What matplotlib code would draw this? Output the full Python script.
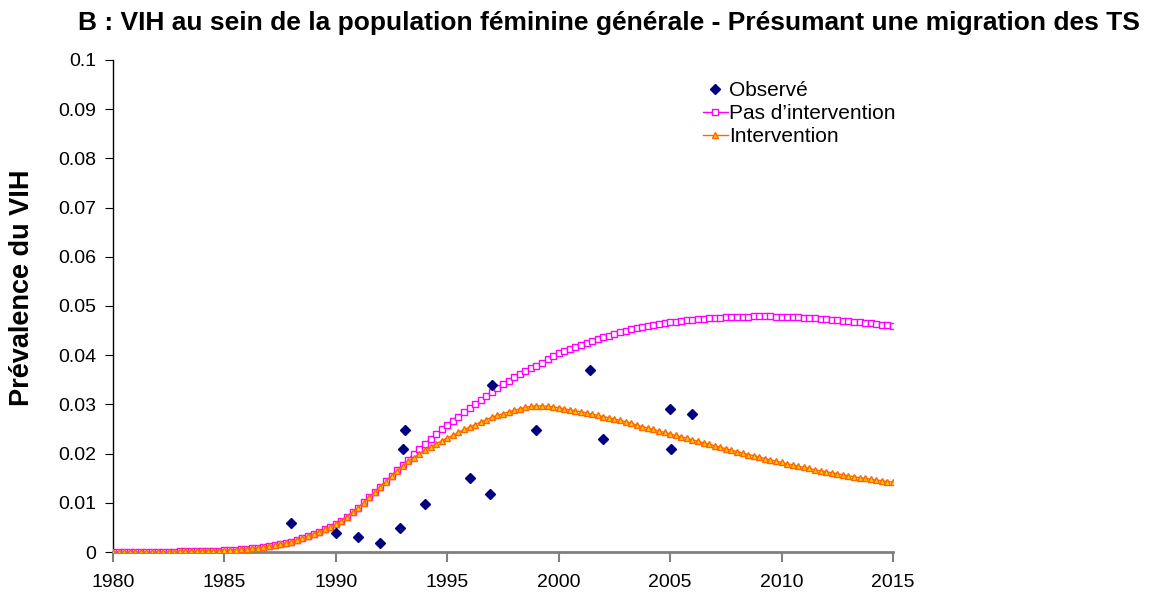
import numpy as np
import matplotlib.pyplot as plt

plt.rcParams['font.family'] = ['Liberation Sans', 'DejaVu Sans']

# observed prevalence (year, value)
obs_year = [1988.0, 1990.0, 1991.0, 1992.0, 1992.9, 1993.0, 1993.1, 1994.0,
            1996.0, 1996.9, 1997.0, 1999.0, 2001.4, 2002.0, 2005.0, 2005.05, 2006.0]
obs_val = [0.0058, 0.0038, 0.003, 0.0019, 0.0048, 0.0209, 0.0248, 0.0098,
           0.015, 0.0118, 0.034, 0.0248, 0.0369, 0.023, 0.029, 0.0209, 0.028]

# model output, quarterly from 1980 to 2015
model_years = np.arange(1980, 2015.01, 0.25)

no_interv = [
    0.0000, 0.0000, 0.0000, 0.0000, 0.0000, 0.0000, 0.0000, 0.0000,
    0.0000, 0.0000, 0.0001, 0.0001, 0.0002, 0.0002, 0.0002, 0.0002,
    0.0003, 0.0003, 0.0003, 0.0003, 0.0004, 0.0005, 0.0005, 0.0006,
    0.0007, 0.0008, 0.0009, 0.0010, 0.0012, 0.0014, 0.0016, 0.0018,
    0.0021, 0.0024, 0.0028, 0.0032, 0.0037, 0.0041, 0.0046, 0.0051,
    0.0056, 0.0064, 0.0072, 0.0081, 0.0090, 0.0101, 0.0112, 0.0122,
    0.0133, 0.0144, 0.0155, 0.0166, 0.0177, 0.0188, 0.0199, 0.0210,
    0.0220, 0.0230, 0.0240, 0.0249, 0.0258, 0.0267, 0.0275, 0.0284,
    0.0292, 0.0301, 0.0309, 0.0318, 0.0326, 0.0334, 0.0341, 0.0348,
    0.0355, 0.0361, 0.0367, 0.0373, 0.0378, 0.0385, 0.0392, 0.0399,
    0.0405, 0.0409, 0.0413, 0.0417, 0.0421, 0.0425, 0.0429, 0.0433,
    0.0437, 0.0440, 0.0444, 0.0447, 0.0450, 0.0453, 0.0455, 0.0458,
    0.0460, 0.0462, 0.0464, 0.0466, 0.0467, 0.0468, 0.0470, 0.0471,
    0.0472, 0.0473, 0.0474, 0.0475, 0.0476, 0.0476, 0.0477, 0.0477,
    0.0478, 0.0478, 0.0478, 0.0479, 0.0479, 0.0479, 0.0479, 0.0478,
    0.0478, 0.0478, 0.0477, 0.0477, 0.0476, 0.0475, 0.0475, 0.0474,
    0.0473, 0.0472, 0.0471, 0.0470, 0.0469, 0.0468, 0.0467, 0.0466,
    0.0465, 0.0464, 0.0462, 0.0461, 0.0460]

interv = [
    0.0000, 0.0000, 0.0000, 0.0000, 0.0000, 0.0000, 0.0000, 0.0000,
    0.0000, 0.0000, 0.0001, 0.0001, 0.0002, 0.0002, 0.0002, 0.0002,
    0.0003, 0.0003, 0.0003, 0.0003, 0.0004, 0.0005, 0.0005, 0.0006,
    0.0007, 0.0008, 0.0009, 0.0010, 0.0012, 0.0014, 0.0016, 0.0018,
    0.0021, 0.0024, 0.0028, 0.0032, 0.0037, 0.0041, 0.0046, 0.0051,
    0.0056, 0.0064, 0.0072, 0.0081, 0.0090, 0.0100, 0.0111, 0.0121,
    0.0132, 0.0143, 0.0154, 0.0165, 0.0175, 0.0184, 0.0192, 0.0200,
    0.0207, 0.0214, 0.0220, 0.0226, 0.0232, 0.0237, 0.0243, 0.0249,
    0.0254, 0.0259, 0.0264, 0.0269, 0.0274, 0.0278, 0.0281, 0.0285,
    0.0288, 0.0291, 0.0294, 0.0296, 0.0297, 0.0297, 0.0296, 0.0295,
    0.0293, 0.0291, 0.0289, 0.0287, 0.0285, 0.0283, 0.0280, 0.0278,
    0.0275, 0.0273, 0.0270, 0.0268, 0.0265, 0.0262, 0.0258, 0.0255,
    0.0252, 0.0249, 0.0246, 0.0243, 0.0240, 0.0237, 0.0234, 0.0231,
    0.0228, 0.0225, 0.0222, 0.0219, 0.0216, 0.0213, 0.0210, 0.0207,
    0.0204, 0.0201, 0.0198, 0.0196, 0.0193, 0.0190, 0.0187, 0.0185,
    0.0182, 0.0179, 0.0177, 0.0174, 0.0172, 0.0170, 0.0167, 0.0165,
    0.0163, 0.0161, 0.0159, 0.0157, 0.0155, 0.0153, 0.0151, 0.0150,
    0.0148, 0.0146, 0.0145, 0.0143, 0.0142]

x_ticks = [1980, 1985, 1990, 1995, 2000, 2005, 2010, 2015]
y_ticks = [0, 0.01, 0.02, 0.03, 0.04, 0.05, 0.06, 0.07, 0.08, 0.09, 0.1]
y_labels = ['0', '0.01', '0.02', '0.03', '0.04', '0.05', '0.06', '0.07', '0.08', '0.09', '0.1']

fig = plt.figure(figsize=(11.53, 5.94), dpi=100)
ax = fig.add_axes([0.098, 0.0707, 0.6765, 0.8283])

ax.plot(obs_year, obs_val, 'D', color='#000080', markersize=5.5, linestyle='none',
        label='Observé', zorder=4)
ax.plot(model_years, no_interv, '-s', color='#FF00FF', markersize=4.5,
        markerfacecolor='white', markeredgewidth=1, linewidth=1,
        label='Pas d\u2019intervention', zorder=2)
ax.plot(model_years, interv, '-^', color='#FF6600', markersize=5,
        markerfacecolor='#FFCC00', markeredgewidth=1, linewidth=1,
        label='Intervention', zorder=3)

ax.set_xlim(1980, 2015)
ax.set_ylim(0, 0.1)
ax.set_xticks(x_ticks)
ax.set_yticks(y_ticks)
ax.set_yticklabels(y_labels)
ax.tick_params(axis='both', labelsize=14, direction='out')
ax.tick_params(axis='x', color='#808080', width=1.5, length=7, pad=9)
ax.tick_params(axis='y', length=6, pad=6)
for s in ['top', 'right']:
    ax.spines[s].set_visible(False)
ax.spines['bottom'].set_color('#808080')
ax.spines['bottom'].set_linewidth(2)
ax.spines['left'].set_linewidth(1)

ax.set_ylabel('Prévalence du VIH', fontsize=19.5, fontweight='bold')
ax.yaxis.set_label_coords(-0.1, 0.537)
fig.text(0.528, 0.962, 'B : VIH au sein de la population féminine générale - Présumant une migration des TS',
         ha='center', va='center', fontsize=19, fontweight='bold')

ax.legend(loc='upper left', bbox_to_anchor=(0.6005, 0.881), bbox_transform=fig.transFigure,
          frameon=False, fontsize=15, handlelength=1.2, handletextpad=0.05,
          labelspacing=0.2, borderpad=0, numpoints=1)

fig.savefig('out.png', dpi=100)
